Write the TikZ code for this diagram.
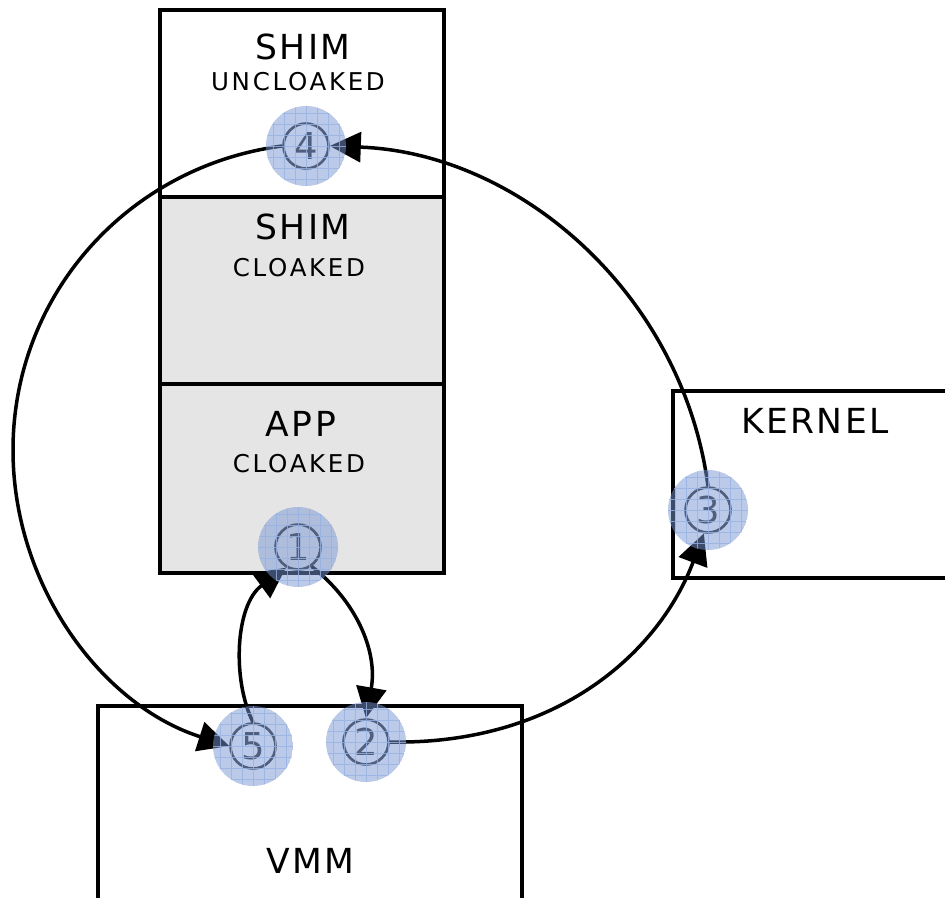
\documentclass[tikz,border=0pt]{standalone}
\usepackage{fontspec}
\setmainfont{DejaVu Sans}
\newfontfamily\bigspaced[LetterSpace=7]{DejaVu Sans}
\newfontfamily\smallspaced[LetterSpace=11]{DejaVu Sans}
\usetikzlibrary{arrows.meta}
\definecolor{boxgray}{RGB}{229,229,229}
\definecolor{discblue}{RGB}{120,150,210}
\definecolor{gridblue}{RGB}{150,178,228}
\definecolor{numgray}{RGB}{40,40,40}
\begin{document}
\begin{tikzpicture}[x=1pt,y=-1pt,
  box/.style={draw=black,line width=3.5pt},
  graybox/.style={box,fill=boxgray},
  big/.style={inner sep=0pt,font=\bigspaced\fontsize{34.5}{34.5}\selectfont},
  small/.style={inner sep=0pt,font=\smallspaced\fontsize{24.5}{24.5}\selectfont},
  num/.style={circle,draw=numgray,line width=2.6pt,minimum size=45pt,inner sep=0pt,text=numgray,font=\fontsize{37}{37}\selectfont},
  flow/.style={line width=3.5pt,-{Triangle[length=31pt,width=30pt]}}]
\useasboundingbox (0,0) rectangle (945,897);
% boxes
\draw[box,fill=white] (160,10) rectangle (444,197);
\draw[graybox] (160,197) rectangle (444,384);
\draw[graybox] (160,384) rectangle (444,573);
\draw[box,fill=white] (673,391) rectangle (960,578);
\draw[box,fill=white] (98,706) rectangle (522,920);
% labels
\node[big] (t1) at (303,47) {SHIM};
\node[small] (t2) at (298,82) {UNCLOAKED};
\node[big] (t3) at (303,227) {SHIM};
\node[small] (t4) at (299,268) {CLOAKED};
\node[big] (t5) at (301,424) {APP};
\node[small] (t6) at (299,464) {CLOAKED};
\node[big] (t7) at (815,421) {KERNEL};
\node[big] (t8) at (310,861) {VMM};
% number nodes
\coordinate (c1) at (298,547);
\coordinate (c2) at (366,742);
\coordinate (c3) at (708,510);
\coordinate (c4) at (306,146);
\coordinate (c5) at (253,746);
\node[num,fill=boxgray] (n1) at (c1) {1};
\node[num,fill=white] (n2) at (c2) {2};
\node[num,fill=white] (n3) at (c3) {3};
\node[num,fill=white] (n4) at (c4) {4};
\node[num,fill=white] (n5) at (c5) {5};
% connectors
\draw[flow] (n1.-55) .. controls (355,600) and (378,650) .. (n2.north);
\draw[flow] (n5.north) .. controls (232,680) and (235,605) .. (n1.-120);
\draw[flow] (n2.east) .. controls (560,745) and (660,650) .. (n3.-100);
\draw[flow] (n3.north) .. controls (683,296) and (521,153) .. (n4.east);
\coordinate (lft) at (13,450);
\draw[flow] (n4.west) .. controls (129,166) and (13,294) .. (lft)
  .. controls (13,585) and (101,705) .. (n5.west);
% translucent discs
\foreach \p in {n1,n2,n3,n4,n5}{
  \begin{scope}[shift={(\p.center)}]
    \clip (0,0) circle (40pt);
    \fill[discblue,opacity=0.5] (0,0) circle (40pt);
    \draw[gridblue,line width=0.7pt,opacity=0.8] (-44pt,-44pt) grid[step=11pt] (44pt,44pt);
  \end{scope}
}
\end{tikzpicture}
\end{document}
